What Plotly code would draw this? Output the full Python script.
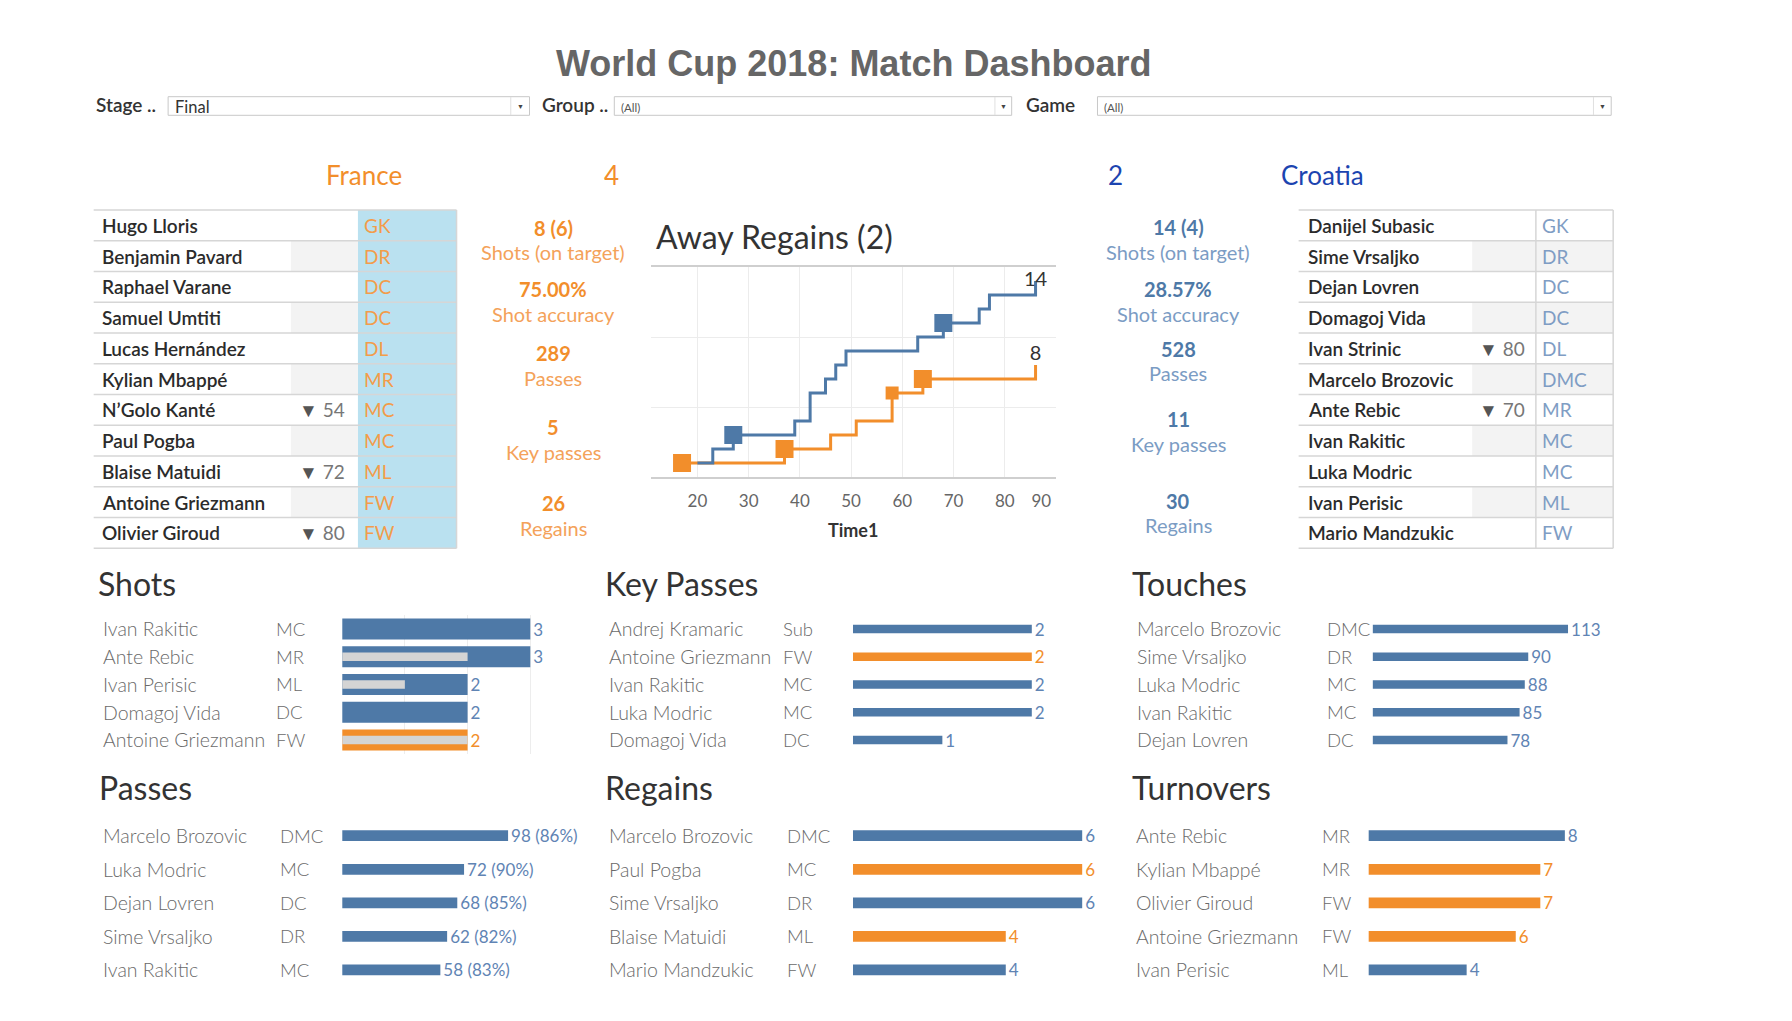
import plotly.graph_objects as go

# ======================= DATA =======================
dashboard_title = "World Cup 2018: Match Dashboard"
filter_labels = ["Stage ..", "Group ..", "Game"]
filter_values = ["Final", "(All)", "(All)"]

home_team, away_team = "France", "Croatia"
home_goals, away_goals = 4, 2

fra_players = ["Hugo Lloris", "Benjamin Pavard", "Raphael Varane", "Samuel Umtiti",
               "Lucas Hernández", "Kylian Mbappé", "N’Golo Kanté", "Paul Pogba",
               "Blaise Matuidi", "Antoine Griezmann", "Olivier Giroud"]
fra_positions = ["GK", "DR", "DC", "DC", "DL", "MR", "MC", "MC", "ML", "FW", "FW"]
fra_sub_minute = [None, None, None, None, None, None, 54, None, 72, None, 80]

cro_players = ["Danijel Subasic", "Sime Vrsaljko", "Dejan Lovren", "Domagoj Vida",
               "Ivan Strinic", "Marcelo Brozovic", "Ante Rebic", "Ivan Rakitic",
               "Luka Modric", "Ivan Perisic", "Mario Mandzukic"]
cro_positions = ["GK", "DR", "DC", "DC", "DL", "DMC", "MR", "MC", "MC", "ML", "FW"]
cro_sub_minute = [None, None, None, None, 80, None, 70, None, None, None, None]

stat_names = ["Shots (on target)", "Shot accuracy", "Passes", "Key passes", "Regains"]
fra_shots, fra_on_target, fra_passes, fra_key_passes, fra_regains = 8, 6, 289, 5, 26
cro_shots, cro_on_target, cro_passes, cro_key_passes, cro_regains = 14, 4, 528, 11, 30

regains_title = "Away Regains (2)"
regains_axis_title = "Time1"
time_ticks = [20, 30, 40, 50, 60, 70, 80, 90]
cro_regain_minutes = [20, 23, 27, 39, 42, 45, 47, 49, 63, 68, 75, 77, 86]
cro_regain_count = [1, 2, 3, 4, 6, 7, 8, 9, 10, 11, 12, 13, 14]
fra_regain_minutes = [17, 37, 46, 51, 58, 64, 86]
fra_regain_count = [1, 2, 3, 4, 6, 7, 8]
cro_away_minutes = [27, 68]
fra_away_minutes = [17, 37, 58, 64]

shots_players = ["Ivan Rakitic", "Ante Rebic", "Ivan Perisic", "Domagoj Vida", "Antoine Griezmann"]
shots_positions = ["MC", "MR", "ML", "DC", "FW"]
shots_teams = ["CRO", "CRO", "CRO", "CRO", "FRA"]
shots_total = [3, 3, 2, 2, 2]
shots_on_target = [0, 2, 1, 0, 2]

kp_players = ["Andrej Kramaric", "Antoine Griezmann", "Ivan Rakitic", "Luka Modric", "Domagoj Vida"]
kp_positions = ["Sub", "FW", "MC", "MC", "DC"]
kp_teams = ["CRO", "FRA", "CRO", "CRO", "CRO"]
kp_values = [2, 2, 2, 2, 1]

touch_players = ["Marcelo Brozovic", "Sime Vrsaljko", "Luka Modric", "Ivan Rakitic", "Dejan Lovren"]
touch_positions = ["DMC", "DR", "MC", "MC", "DC"]
touch_teams = ["CRO", "CRO", "CRO", "CRO", "CRO"]
touch_values = [113, 90, 88, 85, 78]

pass_players = ["Marcelo Brozovic", "Luka Modric", "Dejan Lovren", "Sime Vrsaljko", "Ivan Rakitic"]
pass_positions = ["DMC", "MC", "DC", "DR", "MC"]
pass_teams = ["CRO", "CRO", "CRO", "CRO", "CRO"]
pass_values = [98, 72, 68, 62, 58]
pass_accuracy = [86, 90, 85, 82, 83]

regain_players = ["Marcelo Brozovic", "Paul Pogba", "Sime Vrsaljko", "Blaise Matuidi", "Mario Mandzukic"]
regain_positions = ["DMC", "MC", "DR", "ML", "FW"]
regain_teams = ["CRO", "FRA", "CRO", "FRA", "CRO"]
regain_values = [6, 6, 6, 4, 4]

turn_players = ["Ante Rebic", "Kylian Mbappé", "Olivier Giroud", "Antoine Griezmann", "Ivan Perisic"]
turn_positions = ["MR", "MR", "FW", "FW", "ML"]
turn_teams = ["CRO", "FRA", "FRA", "FRA", "CRO"]
turn_values = [8, 7, 7, 6, 4]

# ======================= STYLE / LAYOUT =======================
W, H = 1792, 1021
def fx(p): return p / W
def fy(p): return 1 - p / H

FONT = "Lato"
BLUE, ORANGE = "#4E79A7", "#F28E2B"
TEAM_BAR = {"CRO": BLUE, "FRA": ORANGE}
TEAM_TXT = {"CRO": "#5F84B4", "FRA": "#F28E2B"}
NAME_GRAY = "#6A6A6A"
LINE_GRAY = "#D6D6D6"

fig = go.Figure()
layout = dict(width=W, height=H, margin=dict(l=0, r=0, t=0, b=0),
              paper_bgcolor="white", plot_bgcolor="rgba(0,0,0,0)",
              showlegend=False, barmode="overlay",
              font=dict(family=FONT, color="#333"))
ann = []
shapes = []

def axnames(k):
    s = "" if k == 1 else str(k)
    return "xaxis" + s, "yaxis" + s, "x" + s, "y" + s

def text(x, y, t, size, color, weight=400, xanchor="center", xref="paper", yref="paper", family=FONT):
    ann.append(dict(x=x, y=y, xref=xref, yref=yref, text=t, showarrow=False,
                    xanchor=xanchor, yanchor="middle",
                    font=dict(family=family, size=size, color=color, weight=weight)))

# ---------- title & filters ----------
text(fx(866), fy(63), "<b>" + dashboard_title + "</b>", 36, "#666666",
     family="Liberation Sans, Arial")
filter_specs = [  # label x, box x0, box x1, divider x
    (95, 170.5, 537, 518),
    (548, 623, 1026, 1009),
    (1038, 1113, 1634, 1616),
]
for (lx, b0, b1, dv), lab, val in zip(filter_specs, filter_labels, filter_values):
    text(fx(lx), fy(104), lab, 19, "#333", weight=600, xanchor="left")
    shapes.append(dict(type="rect", xref="paper", yref="paper", x0=fx(b0), x1=fx(b1),
                       y0=fy(115.3), y1=fy(96.7), line=dict(color="#C8C8C8", width=1),
                       fillcolor="white", layer="below"))
    shapes.append(dict(type="line", xref="paper", yref="paper", x0=fx(dv), x1=fx(dv),
                       y0=fy(115), y1=fy(97), line=dict(color="#E0E0E0", width=1)))
    text(fx((dv + b1) / 2), fy(106), "▼", 7, "#444")
    if val == "Final":
        text(fx(b0 + 5), fy(107), val, 16.5, "#333", xanchor="left")
    else:
        text(fx(b0 + 5), fy(107), val, 11.5, "#555", xanchor="left")

# ---------- team headers ----------
CRO_HEAD = "#1C44B0"
text(fx(369), fy(175), home_team, 26, ORANGE)
text(fx(620), fy(175), str(home_goals), 26, ORANGE)
text(fx(1131), fy(175), str(away_goals), 26, CRO_HEAD)
text(fx(1341), fy(175), away_team, 26, CRO_HEAD)

# ---------- stats ----------
fra_stats = [f"{fra_shots} ({fra_on_target})", f"{100 * fra_on_target / fra_shots:.2f}%",
             str(fra_passes), str(fra_key_passes), str(fra_regains)]
cro_stats = [f"{cro_shots} ({cro_on_target})", f"{100 * cro_on_target / cro_shots:.2f}%",
             str(cro_passes), str(cro_key_passes), str(cro_regains)]
fra_stat_y = [(228, 252), (289, 314), (353, 378), (427, 452), (503, 528)]
cro_stat_y = [(227, 252), (289, 314), (349, 373), (419, 444), (501, 525)]
for v, lab, (yv, yl) in zip(fra_stats, stat_names, fra_stat_y):
    text(fx(561), fy(yv), v, 20, ORANGE, weight=700)
    text(fx(561), fy(yl), lab, 20, "#F4A25A")
for v, lab, (yv, yl) in zip(cro_stats, stat_names, cro_stat_y):
    text(fx(1195), fy(yv), v, 20, BLUE, weight=700)
    text(fx(1195), fy(yl), lab, 20, "#7B9CC4")

# ---------- line-up tables ----------
def add_table(k, players, positions, subs, spec):
    xa, ya, xr, yr = axnames(k)
    n = len(players)
    wpx = spec["right"] - spec["left"]
    rh = spec["row_h"]
    pad = 0.06
    layout[xa] = dict(domain=[fx(spec["left"] - 2), fx(spec["right"] + 2)], range=[-2, wpx + 2],
                      visible=False, anchor=yr, fixedrange=True)
    layout[ya] = dict(domain=[fy(spec["top"] + (n + pad) * rh), fy(spec["top"] - pad * rh)],
                      range=[n + pad, -pad], visible=False, anchor=xr, fixedrange=True)
    rows = [i + 0.5 for i in range(n)]
    for x0, x1, color, which in spec["fills"]:
        ys = [r for i, r in enumerate(rows) if which == "all" or i % 2 == 1]
        fig.add_trace(go.Bar(orientation="h", y=ys, x=[x1 - x0] * len(ys), base=[x0] * len(ys),
                             width=1, marker=dict(color=color, line=dict(width=0)),
                             xaxis=xr, yaxis=yr, hoverinfo="skip"))
    lx, ly = [], []
    for b in range(n + 1):
        lx += [0, wpx, None]
        ly += [b, b, None]
    for v in spec["vlines"]:
        lx += [v, v, None]
        ly += [0, n, None]
    fig.add_trace(go.Scatter(x=lx, y=ly, mode="lines", line=dict(color=LINE_GRAY, width=1.5),
                             xaxis=xr, yaxis=yr, hoverinfo="skip"))
    for i, (p, pos, m) in enumerate(zip(players, positions, subs)):
        text(spec["name_x"], rows[i], p, 19, "#2B2B2B", weight=600, xanchor="left", xref=xr, yref=yr)
        text(spec["pos_x"], rows[i], pos, 19, spec["pos_color"], xanchor="left", xref=xr, yref=yr)
        if m is not None:
            text(spec["sub_x"], rows[i], f"<span style='color:#555'>▼</span> {m}", 19, "#777",
                 xanchor="left", xref=xr, yref=yr)

add_table(1, fra_players, fra_positions, fra_sub_minute,
          dict(left=95, right=463, top=210, row_h=30.76, name_x=6.7, sub_x=206, pos_x=272,
               fills=[(268, 368, "#BAE1F0", "all"), (200, 268, "#F3F3F3", "odd")],
               vlines=[368], pos_color="#F39C4A"))
add_table(2, cro_players, cro_positions, cro_sub_minute,
          dict(left=1317, right=1636, top=210, row_h=30.76, name_x=7, sub_x=181, pos_x=245,
               fills=[(176, 319, "#F3F3F3", "odd")],
               vlines=[240.6, 319], pos_color="#7F9DC4"))

# ---------- away regains chart ----------
xa, ya, xr, yr = axnames(3)
tick_text = [str(t) if t < 90 else str(t) + "\u2007\u2007\u2007" for t in time_ticks]
layout[xa] = dict(domain=[fx(660), fx(1071)], range=[10.9, 90], tickvals=time_ticks,
                  ticktext=tick_text,
                  showgrid=True, gridcolor="#ECECEC", showline=True, mirror=True,
                  linecolor="#CFCFCF", linewidth=1.5, zeroline=False, ticks="",
                  tickfont=dict(size=17, color="#666"), ticklabelstandoff=8,
                  anchor=yr, fixedrange=True)
layout[ya] = dict(domain=[fy(477), fy(267)], range=[0, 15], tickvals=[5, 10],
                  showgrid=True, gridcolor="#ECECEC", showticklabels=False,
                  zeroline=False, showline=False, ticks="", anchor=xr, fixedrange=True)
xa4, ya4, xr4, yr4 = axnames(4)
layout[xa4] = dict(domain=[fx(660), fx(1071)], range=[0, 1], visible=False, anchor=yr4)
layout[ya4] = dict(domain=[fy(548), fy(267)], range=[0, 1], showline=True, mirror=True,
                   linecolor="#CFCFCF", linewidth=1.5, showgrid=False, zeroline=False,
                   showticklabels=False, ticks="", anchor=xr4)

fra_lookup = dict(zip(fra_regain_minutes, fra_regain_count))
cro_lookup = dict(zip(cro_regain_minutes, cro_regain_count))
fig.add_trace(go.Scatter(x=fra_regain_minutes, y=fra_regain_count, mode="lines",
                         line=dict(color=ORANGE, width=3, shape="hv"), xaxis=xr, yaxis=yr))
fig.add_trace(go.Scatter(x=cro_regain_minutes, y=cro_regain_count, mode="lines",
                         line=dict(color=BLUE, width=3, shape="hv"), xaxis=xr, yaxis=yr))
fig.add_trace(go.Scatter(x=fra_away_minutes, y=[fra_lookup[m] for m in fra_away_minutes],
                         mode="markers", opacity=1,
                         marker=dict(symbol="square", size=[18, 18, 13, 18], opacity=1,
                                     color=ORANGE, line=dict(width=0)),
                         xaxis=xr, yaxis=yr, cliponaxis=False))
fig.add_trace(go.Scatter(x=cro_away_minutes, y=[cro_lookup[m] for m in cro_away_minutes],
                         mode="markers", opacity=1,
                         marker=dict(symbol="square", size=18, color=BLUE, opacity=1,
                                     line=dict(width=0)),
                         xaxis=xr, yaxis=yr, cliponaxis=False))
fig.add_trace(go.Scatter(x=[fra_regain_minutes[-1]], y=[fra_regain_count[-1]], mode="text",
                         text=[str(fra_regain_count[-1])], textposition="top center",
                         textfont=dict(size=20, color="#333", family=FONT),
                         xaxis=xr, yaxis=yr, cliponaxis=False))
fig.add_trace(go.Scatter(x=[cro_regain_minutes[-1]], y=[cro_regain_count[-1]], mode="text",
                         text=[str(cro_regain_count[-1])], textposition="middle center",
                         textfont=dict(size=20, color="#333", family=FONT),
                         xaxis=xr, yaxis=yr, cliponaxis=False))
text(fx(663), fy(237), regains_title, 32, "#333", xanchor="left")
text(fx(865), fy(530), "<b>" + regains_axis_title + "</b>", 18, "#333")

# ---------- bar panels ----------
ROW_TOP = [629 + i * 27.75 for i in range(5)]
ROW_BOT = [835.7 + i * 33.57 for i in range(5)]

def add_panel(k, title, tx, ty, name_x, pos_x, bar_x0, ppu, rng, rows_px, bar_w,
              players, positions, teams, values, labels, grid=None, inner=None):
    xa, ya, xr, yr = axnames(k)
    n = len(players)
    step = rows_px[1] - rows_px[0]
    layout[xa] = dict(domain=[fx(bar_x0), fx(bar_x0 + rng * ppu)], range=[0, rng],
                      showgrid=grid is not None, tickvals=grid if grid else [],
                      gridcolor="#EDEDED", showticklabels=False, zeroline=False,
                      showline=False, ticks="", anchor=yr, fixedrange=True)
    layout[ya] = dict(domain=[fy(rows_px[-1] + step / 2), fy(rows_px[0] - step / 2)],
                      range=[n - 0.5, -0.5], visible=False, anchor=xr, fixedrange=True)
    idx = list(range(n))
    fig.add_trace(go.Bar(orientation="h", y=idx, x=values, width=bar_w,
                         marker=dict(color=[TEAM_BAR[t] for t in teams], line=dict(width=0)),
                         text=labels, textposition="outside", constraintext="none",
                         textfont=dict(size=17, family=FONT, color=[TEAM_TXT[t] for t in teams]),
                         cliponaxis=False, xaxis=xr, yaxis=yr))
    if inner is not None:
        fig.add_trace(go.Bar(orientation="h", y=idx, x=inner, width=0.3,
                             marker=dict(color="#D4D4D4", line=dict(width=0)),
                             xaxis=xr, yaxis=yr, hoverinfo="skip"))
    text(fx(tx), fy(ty), title, 32, "#333", xanchor="left")
    for i, (p, pos) in enumerate(zip(players, positions)):
        text(fx(name_x), i, p, 19.5, NAME_GRAY, weight=300, xanchor="left", yref=yr)
        text(fx(pos_x), i, pos, 18.5, NAME_GRAY, weight=300, xanchor="left", yref=yr)

add_panel(5, "Shots", 97, 583, 102, 278, 347, 63.6, 3.5, ROW_TOP, 0.757,
          shots_players, shots_positions, shots_teams, shots_total,
          [str(v) for v in shots_total], grid=[1, 2, 3], inner=shots_on_target)
add_panel(6, "Key Passes", 612, 583, 616, 791.8, 865, 90.7, 2.6, ROW_TOP, 0.3,
          kp_players, kp_positions, kp_teams, kp_values, [str(v) for v in kp_values])
add_panel(7, "Touches", 1146, 583, 1151, 1343.7, 1392, 1.754, 140, ROW_TOP, 0.3,
          touch_players, touch_positions, touch_teams, touch_values,
          [str(v) for v in touch_values])
add_panel(8, "Passes", 98, 787, 102, 281.8, 347, 1.717, 130, ROW_BOT, 0.32,
          pass_players, pass_positions, pass_teams, pass_values,
          [f"{v} ({a}%)" for v, a in zip(pass_values, pass_accuracy)])
add_panel(9, "Regains", 612, 787, 616, 796.4, 865, 38.75, 7.5, ROW_BOT, 0.32,
          regain_players, regain_positions, regain_teams, regain_values,
          [str(v) for v in regain_values])
add_panel(10, "Turnovers", 1146, 787, 1150.4, 1338.8, 1387.8, 24.9, 10, ROW_BOT, 0.32,
          turn_players, turn_positions, turn_teams, turn_values,
          [str(v) for v in turn_values])

layout["annotations"] = ann
layout["shapes"] = shapes
fig.update_layout(**layout)
fig.update_traces(showlegend=False)
fig.write_html(
    "out.html", config={"displayModeBar": False},
    post_script=(
        "document.body.style.margin='0px';"
        "document.body.style.overflow='hidden';"
        "document.documentElement.style.overflow='hidden';"
    ))
